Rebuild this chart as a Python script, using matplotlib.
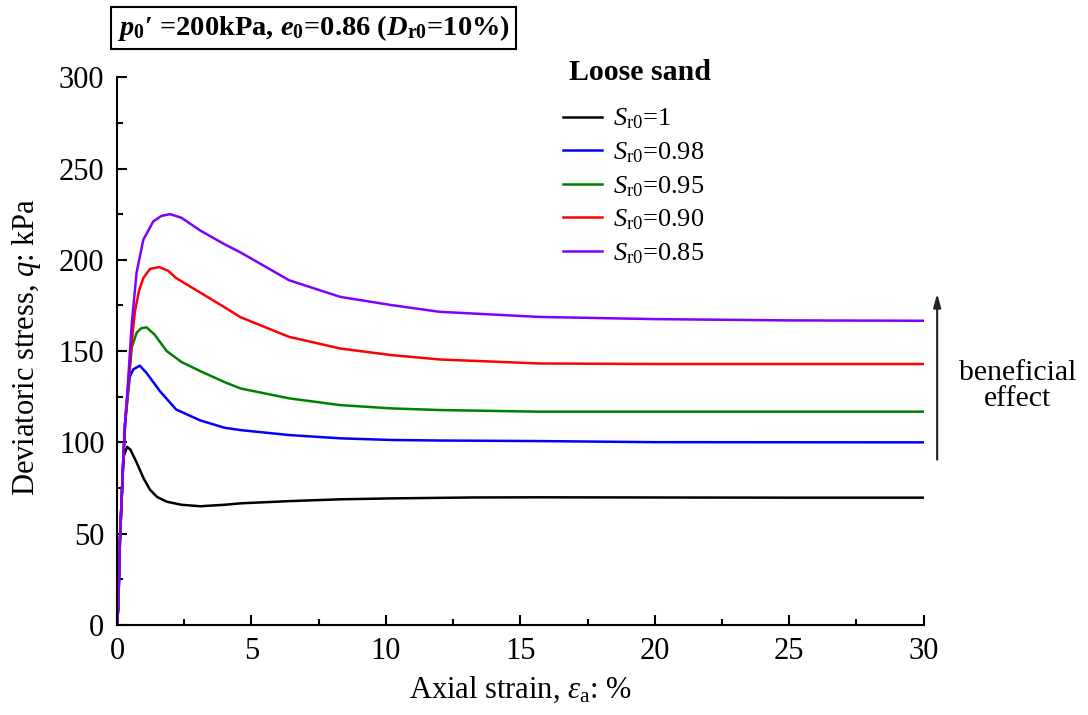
import matplotlib
matplotlib.use("Agg")
import matplotlib.pyplot as plt
import numpy as np

plt.rcParams['font.family'] = ['Liberation Serif', 'DejaVu Serif']
plt.rcParams['mathtext.fontset'] = 'custom'
plt.rcParams['mathtext.rm'] = 'Liberation Serif'
plt.rcParams['mathtext.it'] = 'Liberation Serif:italic'
plt.rcParams['mathtext.bf'] = 'Liberation Serif:bold'
plt.rcParams['mathtext.bfit'] = 'Liberation Serif:italic:bold'

# values (axial strain %, deviatoric stress kPa)
black_x = [0, 0.05, 0.11, 0.24, 0.38, 0.5, 0.73, 1.0, 1.23, 1.5, 1.85, 2.4, 3.1, 4, 4.6, 6.4, 8.3, 10.2, 13.2, 15.7, 20, 25, 30]
black_q = [0, 10, 46, 92, 97.5, 96, 89, 80, 74, 70, 67.5, 65.8, 65, 65.8, 66.6, 67.8, 68.8, 69.3, 69.8, 69.9, 69.8, 69.7, 69.7]

blue_x = [0, 0.05, 0.11, 0.24, 0.3, 0.42, 0.48, 0.61, 0.85, 1.1, 1.35, 1.6, 2.2, 3.1, 4, 4.6, 6.4, 8.3, 10.2, 12, 15.7, 20, 30]
blue_q = [0, 10, 46, 92, 110, 128, 136, 140, 142, 138, 133, 128, 118, 112, 108, 106.7, 104, 102.2, 101.3, 101, 100.7, 100.1, 100]

green_x = [0, 0.05, 0.11, 0.24, 0.3, 0.42, 0.55, 0.73, 0.9, 1.1, 1.4, 1.85, 2.4, 3.1, 4, 4.6, 6.4, 8.3, 10.2, 12, 15.7, 20, 30]
green_q = [0, 10, 46, 92, 110, 130, 152, 160, 162.5, 163, 159, 150, 144, 139, 133, 129.5, 124.1, 120.4, 118.6, 117.7, 116.8, 116.8, 116.8]

red_x = [0, 0.05, 0.11, 0.24, 0.3, 0.42, 0.55, 0.67, 0.82, 0.98, 1.23, 1.57, 1.9, 2.2, 3.1, 4, 4.6, 6.4, 8.3, 10.2, 12, 15.7, 20, 30]
red_q = [0, 10, 46, 92, 110, 132, 155, 172, 183, 190, 195, 196, 194, 190, 182, 174, 168.5, 157.8, 151.4, 147.8, 145.4, 143.2, 142.9, 142.9]

purple_x = [0, 0.05, 0.11, 0.24, 0.3, 0.42, 0.55, 0.73, 0.98, 1.35, 1.65, 1.97, 2.4, 3.1, 4, 4.6, 6.4, 8.3, 10.2, 12, 15.7, 20, 25, 30]
purple_q = [0, 10, 46, 92, 110, 135, 165, 193, 211, 221, 224, 225, 223, 216, 208.5, 204, 188.8, 179.7, 175.2, 171.5, 168.7, 167.5, 166.8, 166.6]

series = [
    (black_x, black_q, 'black', r'$S_{\mathrm{r0}}$=1'),
    (blue_x, blue_q, '#0000ff', r'$S_{\mathrm{r0}}$=0.98'),
    (green_x, green_q, '#008000', r'$S_{\mathrm{r0}}$=0.95'),
    (red_x, red_q, '#ff0000', r'$S_{\mathrm{r0}}$=0.90'),
    (purple_x, purple_q, '#8000ff', r'$S_{\mathrm{r0}}$=0.85'),
]

fig = plt.figure(figsize=(10.88, 7.15), dpi=100)
ax = fig.add_axes([0.1075, 0.126, 0.7415, 0.766])

for x, q, c, lab in series:
    ax.plot(x, q, color=c, lw=1.8, label=lab)

ax.set_xlim(0, 30)
ax.set_ylim(0, 300)
ax.set_xticks(np.arange(0, 31, 5))
ax.set_yticks(np.arange(0, 301, 50))
ax.set_xticks(np.arange(2.5, 30, 5), minor=True)
ax.set_yticks(np.arange(25, 300, 50), minor=True)
ax.tick_params(which='both', direction='in', width=1.5, labelsize=22)
ax.tick_params(which='major', length=7, pad=9)
ax.tick_params(which='minor', length=4)
for s in ['top', 'right']:
    ax.spines[s].set_visible(False)
for s in ['left', 'bottom']:
    ax.spines[s].set_linewidth(1.5)

ax.set_xlabel(r'Axial strain, $\varepsilon_{\mathrm{a}}$: %', fontsize=22, va='center')
ax.set_ylabel(r'Deviatoric stress, $q$: kPa', fontsize=22, va='center')
ax.xaxis.set_label_coords(0.5, -0.119)
ax.yaxis.set_label_coords(-0.112, 0.507)

leg = ax.legend(loc='upper left', bbox_to_anchor=(0.5527, 0.946), frameon=False,
                fontsize=19, handlelength=1.5, handletextpad=0.4,
                labelspacing=0.34, borderpad=0, borderaxespad=0)
fig.text(640 / 1088, 1 - 72 / 715, 'Loose sand', fontsize=21.5, fontweight='bold',
         ha='center', va='center')

ax.annotate('', xy=(30.5, 183), xytext=(30.5, 89), annotation_clip=False,
            arrowprops=dict(arrowstyle='-|>,head_width=0.22,head_length=0.8',
                            color='#222222', lw=1.5))
ax.text(33.5, 131, 'beneficial\neffect', fontsize=21.5, ha='center', va='center',
        linespacing=1.0, clip_on=False)

fig.text(0.1075, 0.961,
         r"$\mathbfit{p}_{\mathbf{0}}$′ =200kPa, $\mathbfit{e}_{\mathbf{0}}$=0.86 ($\mathbfit{D}_{\mathbf{r0}}$=10%)",
         fontsize=20.5, fontweight='bold', ha='left', va='center',
         bbox=dict(boxstyle='square,pad=0.2', fc='white', ec='black', lw=1.5))

fig.savefig('out.png', dpi=100)
